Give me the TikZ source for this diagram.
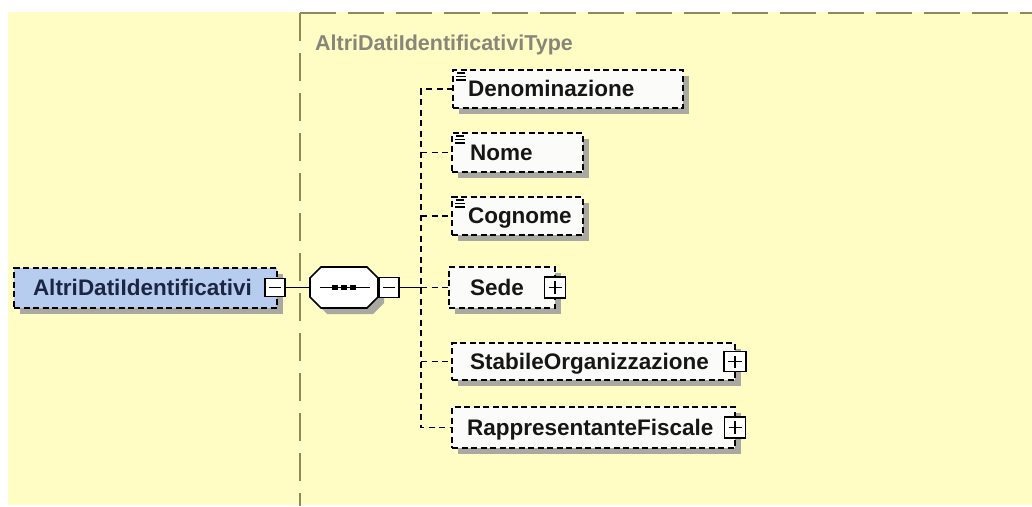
\documentclass[tikz,border=0pt]{standalone}
\usepackage{fontspec}
\setmainfont{Liberation Sans}
\usetikzlibrary{calc,shadows}

\definecolor{bgyellow}{HTML}{FFFDC4}
\definecolor{frameolive}{HTML}{8C8A5C}
\definecolor{typegray}{HTML}{86867A}
\definecolor{rootblue}{HTML}{B6CDF0}
\definecolor{rootink}{HTML}{1C2542}
\definecolor{elemink}{HTML}{161616}
\definecolor{shadowgray}{HTML}{A9A9A2}
\definecolor{elemfill}{HTML}{FBFBF9}

\begin{document}
\begin{tikzpicture}[x=1pt,y=-1pt,
  labelfont/.style={font=\bfseries\fontsize{22.5}{27}\selectfont},
  dashborder/.style={dash pattern=on 6pt off 3.5pt, line width=1.8pt},
  box/.style={labelfont, draw=black, dashborder, anchor=north west, align=left,
    inner ysep=0pt, outer sep=0pt, text height=17pt, text depth=2pt,
    drop shadow={shadow xshift=6pt, shadow yshift=-6pt, fill=shadowgray, opacity=1}},
  elembox/.style={box, fill=elemfill, text=elemink},
  rootbox/.style={box, fill=rootblue, text=rootink},
  conn/.style={draw=black, line width=1.7pt, dash pattern=on 6pt off 4.5pt},
  solidconn/.style={draw=black, line width=1.6pt},
  expander/.style={draw=black, fill=white, line width=1.5pt, solid,
    minimum width=20pt, minimum height=20pt, inner sep=0pt, outer sep=0pt},
  minusmark/.style={expander, path picture={
    \draw[line width=1.5pt] ($(path picture bounding box.west)+(4,0)$) -- ($(path picture bounding box.east)+(-4,0)$);}},
  plusmark/.style={expander, path picture={
    \draw[line width=1.5pt] ($(path picture bounding box.west)+(4,0)$) -- ($(path picture bounding box.east)+(-4,0)$);
    \draw[line width=1.5pt] ($(path picture bounding box.north)+(0,4)$) -- ($(path picture bounding box.south)+(0,-4)$);}},
]

% page and backdrop
\useasboundingbox (0,0) rectangle (1032,506);
\fill[white] (0,0) rectangle (1032,506);
\fill[bgyellow] (8,12) rectangle (1032,505);

% frame of the complex type
\draw[frameolive, line width=2pt, dash pattern=on 36pt off 12pt] (300,13) -- (1032,13);
\draw[frameolive, line width=2pt, dash pattern=on 28pt off 12pt] (300,13) -- (300,506);
\node[labelfont, font=\bfseries\fontsize{21.5}{26}\selectfont, text=typegray, anchor=base west, inner sep=0pt]
  (typename) at (315,50) {AltriDatiIdentificativiType};

% root element
\node[rootbox, text width=225pt, inner xsep=19pt, minimum height=40pt] (root) at (14,268) {AltriDatiIdentificativi};
\node[minusmark, minimum height=18pt] (rootmin) at (275,287.5) {};

% sequence compositor
\node[inner sep=0pt, outer sep=0pt, minimum width=68pt, minimum height=41pt] (seq) at (344,287.5) {};
\fill[shadowgray, shift={(6,6)}] (321,267) -- (367,267) -- (378,278) -- (378,297) -- (367,308) -- (321,308) -- (310,297) -- (310,278) -- cycle;
\draw[black, fill=white, line width=1.7pt] (321,267) -- (367,267) -- (378,278) -- (378,297) -- (367,308) -- (321,308) -- (310,297) -- (310,278) -- cycle;
\draw[black, line width=1.6pt] ($(seq.west)+(10,0)$) -- ($(seq.east)+(-8,0)$);
\foreach \dx in {-9,0,9} \fill[black] ($(seq.center)+(\dx,0)+(-2.8,-2.8)$) rectangle ++(5.6,5.6);
\node[minusmark] (seqmin) at (389,287.5) {};

% child elements
\node[elembox, text width=200pt, inner xsep=15pt, minimum height=38pt] (den) at (453,70) {Denominazione};
\node[elembox, text width=95pt, inner xsep=18pt, minimum height=39pt] (nom) at (452,133) {Nome};
\node[elembox, text width=99pt, inner xsep=16pt, minimum height=38pt] (cog) at (452,197) {Cognome};
\node[elembox, text width=64pt, inner xsep=21pt, minimum height=41pt] (sed) at (449,267) {Sede};
\node[elembox, text width=247pt, inner xsep=18pt, minimum height=37pt] (sta) at (452,343) {StabileOrganizzazione};
\node[elembox, text width=253pt, inner xsep=15pt, minimum height=41pt] (rap) at (452,407) {RappresentanteFiscale};

% simple-content marks
\foreach \n in {den,nom,cog}{
  \draw[black, line width=1.4pt] ($(\n.north west)+(4,3)$) -- ++(8,0);
  \draw[black, line width=1.4pt] ($(\n.north west)+(3,6.5)$) -- ++(10,0);
  \draw[black, line width=1.4pt] ($(\n.north west)+(3,10)$) -- ++(10,0);
}

% expanders of complex children
\node[plusmark, minimum width=21pt, minimum height=21pt] (sedplus) at (sed.east) {};
\node[plusmark, minimum width=22pt, minimum height=20pt] (staplus) at (sta.east) {};
\node[plusmark, minimum width=21pt, minimum height=21pt] (rapplus) at (rap.east) {};

% connectors
\coordinate (tr) at (421,287.5);
\draw[solidconn] (rootmin.east) -- (seq.west);
\draw[solidconn] (seqmin.east) -- (tr);
\draw[conn] (den.west) -- (den.west -| tr) -- (rap.west -| tr) -- (rap.west);
\draw[conn] (tr |- nom.west) -- (nom.west);
\draw[conn] (tr |- cog.west) -- (cog.west);
\draw[conn] (tr) -- (sed.west);
\draw[conn] (tr |- sta.west) -- (sta.west);
\end{tikzpicture}
\end{document}
